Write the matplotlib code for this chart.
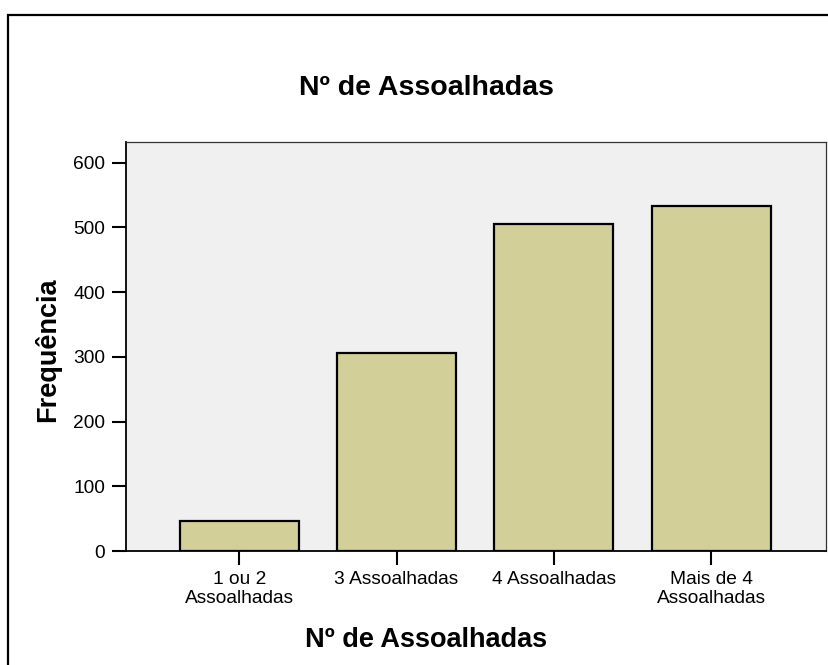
import matplotlib
matplotlib.use("Agg")
import matplotlib.pyplot as plt
from matplotlib.patches import Rectangle

plt.rcParams['font.family'] = ['Liberation Sans', 'DejaVu Sans']

categories = ["1 ou 2\nAssoalhadas", "3 Assoalhadas", "4 Assoalhadas", "Mais de 4\nAssoalhadas"]
values = [46, 306, 505, 533]
yticks = [0, 100, 200, 300, 400, 500, 600]

W, H = 829, 665
fig = plt.figure(figsize=(W / 100, H / 100), dpi=100)
fig.patch.set_facecolor('white')

# outer frame
fig.patches.append(Rectangle((8.5 / W, -0.1), 1.2, 1 - 15 / H + 0.1,
                             transform=fig.transFigure, fill=False,
                             edgecolor='black', linewidth=1.6, clip_on=False))

ax = fig.add_axes([126 / W, 1 - 551 / H, 700 / W, 409 / H])
ax.set_facecolor('#f0f0f0')
x = list(range(len(categories)))
ax.bar(x, values, width=0.756, color='#d3cf98', edgecolor='black', linewidth=1.6, zorder=3)
ax.set_xlim(-0.72, 3.73)
ax.set_ylim(0, 632)
ax.set_yticks(yticks)
ax.set_xticks(x)
ax.set_xticklabels(categories, fontsize=13.8, linespacing=1.12)
ax.tick_params(axis='both', direction='out', length=10, width=1.5, colors='black', labelsize=13.8)
ax.tick_params(axis='y', pad=5)
ax.tick_params(axis='x', pad=4.5)
for s in ['left', 'bottom']:
    ax.spines[s].set_linewidth(1.3)
    ax.spines[s].set_color('black')
for s in ['top', 'right']:
    ax.spines[s].set_linewidth(0.9)
    ax.spines[s].set_color('#333333')

fig.text(426 / W, 1 - 88 / H, "Nº de Assoalhadas", ha='center', va='center',
         fontsize=20.5, fontweight='bold')
fig.text(426 / W, 1 - 640 / H, "Nº de Assoalhadas", ha='center', va='center',
         fontsize=19.5, fontweight='bold')
fig.text(47.5 / W, 1 - 350 / H, "Frequência", ha='center', va='center', rotation=90,
         fontsize=19.5, fontweight='bold')

fig.savefig("out.png", dpi=100)
